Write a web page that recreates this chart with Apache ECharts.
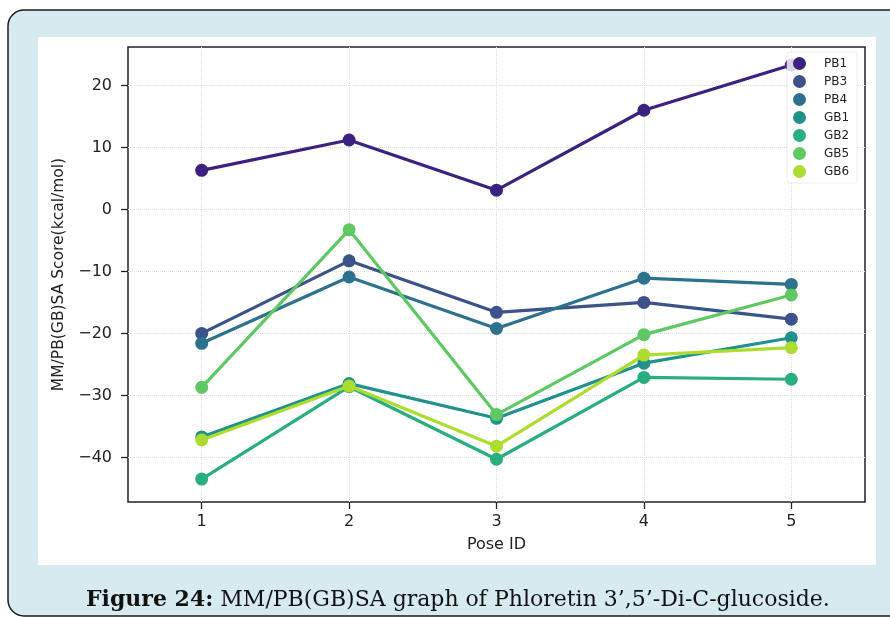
<!DOCTYPE html>
<html><head><meta charset="utf-8">
<script src="https://cdn.jsdelivr.net/npm/echarts@6/dist/echarts.min.js"></script>
<style>html,body{margin:0;padding:0;background:#fff;}#c{width:890px;height:617px;}</style>
</head><body><div id="c"></div>
<script>
const poses = [1, 2, 3, 4, 5];
const seriesNames = ['PB1', 'PB3', 'PB4', 'GB1', 'GB2', 'GB5', 'GB6'];
const PB1 = [6.3, 11.2, 3.1, 16.0, 23.3];
const PB3 = [-20.0, -8.3, -16.6, -15.0, -17.7];
const PB4 = [-21.6, -10.9, -19.2, -11.1, -12.1];
const GB1 = [-36.7, -28.1, -33.7, -24.8, -20.7];
const GB2 = [-43.5, -28.6, -40.3, -27.1, -27.4];
const GB5 = [-28.7, -3.3, -33.1, -20.2, -13.8];
const GB6 = [-37.2, -28.5, -38.2, -23.5, -22.3];
const yTicks = [-40, -30, -20, -10, 0, 10, 20];
const seriesValues = [PB1, PB3, PB4, GB1, GB2, GB5, GB6];
const colors = ['#3b2180', '#3b528b', '#2c728e', '#21918c', '#28ae80', '#5ec962', '#addc30'];

const chart = echarts.init(document.getElementById('c'), null, {renderer: 'canvas'});
const fmtMinus = v => String(v).replace('-', '\u2212');

chart.setOption({
  animation: false,
  backgroundColor: '#ffffff',
  graphic: [
    {type: 'rect', z: -10, shape: {x: 8, y: 10, width: 900, height: 606, r: 16},
     style: {fill: '#d6eaf0', stroke: '#1a1a1a', lineWidth: 1.5}},
    {type: 'rect', z: -9, shape: {x: 38, y: 37, width: 838, height: 528},
     style: {fill: '#ffffff'}},
    {type: 'text', z: -8, left: 86, top: 589,
     style: {
       text: '{b|Figure 24:} MM/PB(GB)SA graph of Phloretin 3\u2019,5\u2019-Di-C-glucoside.',
       font: '22px "DejaVu Serif"', fill: '#111',
       rich: {b: {font: 'bold 22px "DejaVu Serif"', fill: '#111'}}
     }}
  ],
  grid: {left: 128, top: 47, right: 25, bottom: 115, show: true,
         borderColor: '#222', borderWidth: 1.5, backgroundColor: 'transparent'},
  legend: {
    data: seriesNames, orient: 'vertical', left: 787, top: 52,
    icon: 'circle', itemWidth: 13, itemHeight: 13, itemGap: 5,
    padding: [5, 8, 5, 6],
    backgroundColor: 'rgba(255,255,255,0.8)', borderColor: 'rgba(220,220,220,0.5)',
    borderWidth: 1, borderRadius: 3,
    textStyle: {fontFamily: 'DejaVu Sans', fontSize: 12, color: '#222', padding: [0, 0, 0, 13]}
  },
  xAxis: {
    type: 'value', min: 0.5, max: 5.5,
    name: 'Pose ID', nameLocation: 'middle', nameGap: 35,
    nameTextStyle: {fontFamily: 'DejaVu Sans', fontSize: 16, color: '#222'},
    axisLine: {show: false, onZero: false},
    axisTick: {show: true, length: 7, lineStyle: {color: '#222', width: 1.3}, customValues: poses},
    axisLabel: {customValues: poses, margin: 12, fontFamily: 'DejaVu Sans', fontSize: 16, color: '#222'},
    splitLine: {show: true, lineStyle: {type: 'dotted', color: '#dcdcdc', width: 1}}
  },
  yAxis: {
    type: 'value', min: -47.2, max: 26.2,
    name: 'MM/PB(GB)SA Score(kcal/mol)', nameLocation: 'middle', nameGap: 57,
    nameTextStyle: {fontFamily: 'DejaVu Sans', fontSize: 15.5, color: '#222'},
    axisLine: {show: false, onZero: false},
    axisTick: {show: true, length: 7, lineStyle: {color: '#222', width: 1.3}, customValues: yTicks},
    axisLabel: {customValues: yTicks, margin: 16, fontFamily: 'DejaVu Sans', fontSize: 16, color: '#222',
                formatter: fmtMinus},
    splitLine: {show: true, lineStyle: {type: 'dotted', color: '#dcdcdc', width: 1}}
  },
  series: seriesNames.map((n, i) => ({
    name: n, type: 'line',
    data: poses.map((p, j) => [p, seriesValues[i][j]]),
    symbol: 'circle', symbolSize: 13,
    lineStyle: {width: 3.2, color: colors[i]},
    itemStyle: {color: colors[i]},
    z: 2 + i
  }))
});
</script></body></html>
